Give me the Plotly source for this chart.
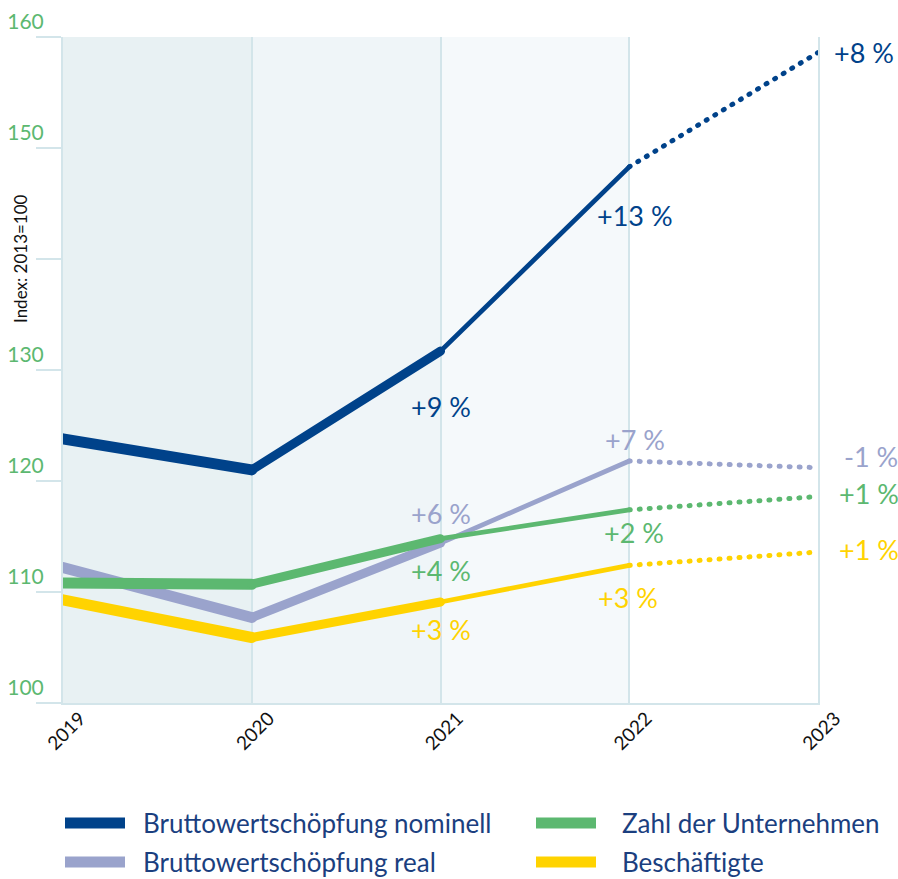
import plotly.graph_objects as go

years = [2019, 2020, 2021, 2022, 2023]
nominell = [123.8, 121.0, 131.7, 148.3, 158.6]
real = [112.2, 107.7, 114.4, 121.8, 121.2]
unternehmen = [110.8, 110.7, 114.8, 117.4, 118.6]
beschaeftigte = [109.3, 105.9, 109.1, 112.4, 113.6]

series_names = ["Bruttowertschöpfung nominell", "Bruttowertschöpfung real",
                "Zahl der Unternehmen", "Beschäftigte"]
series_values = [nominell, real, unternehmen, beschaeftigte]
series_colors = ["#00428a", "#9aa3cc", "#5cb870", "#ffd300"]

pct_labels = {
    "Bruttowertschöpfung nominell": ["+9 %", "+13 %", "+8 %"],
    "Bruttowertschöpfung real": ["+6 %", "+7 %", "-1 %"],
    "Zahl der Unternehmen": ["+4 %", "+2 %", "+1 %"],
    "Beschäftigte": ["+3 %", "+3 %", "+1 %"],
}
# pixel offsets (dx, dy-up) of labels relative to points 2021, 2022, 2023
pct_offsets = {
    "Bruttowertschöpfung nominell": [(0, -55), (6, -49), (14, 0)],
    "Bruttowertschöpfung real": [(0, 30), (6, 22), (24, 11)],
    "Zahl der Unternehmen": [(0, -32), (5, -23), (19, 3)],
    "Beschäftigte": [(0, -28), (-1, -32), (19, 3)],
}

y_ticks = [100, 110, 120, 130, 140, 150, 160]
y_ticktext = ["100", "110", "120", "130", "", "150", "160"]

FONT = "Lato"
L, R, T, B = 63, 818, 37, 703
W, H = 898, 879
GRID = "#d3e5ea"


def pxx(x):
    return (x - L) / (R - L)


def pyy(y):
    return (B - y) / (B - T)


fig = go.Figure()

widths = [11, 9, 4.8]
draw_order = [1, 2, 3, 0]
for i in draw_order:
    vals = series_values[i]
    col = series_colors[i]
    for s in range(3):
        fig.add_trace(go.Scatter(
            x=years[s:s + 2], y=vals[s:s + 2], mode="lines",
            line=dict(color=col, width=widths[s]),
            showlegend=False, hoverinfo="skip"))
    fig.add_trace(go.Scatter(
        x=years[3:5], y=vals[3:5], mode="lines",
        line=dict(color=col, width=5, dash="1px,9px"),
        showlegend=False, hoverinfo="skip"))

# background bands
band_colors = ["#e8f1f3", "#eff5f8", "#f5f9fb"]
shapes = []
for k, c in enumerate(band_colors):
    shapes.append(dict(type="rect", xref="x", yref="y", x0=years[k], x1=years[k + 1],
                       y0=100, y1=160, fillcolor=c, line=dict(width=0), layer="below"))

annotations = []
# percentage labels
for i, name in enumerate(series_names):
    vals = series_values[i]
    for j, (txt, (dx, dy)) in enumerate(zip(pct_labels[name], pct_offsets[name])):
        idx = j + 2
        last = idx == 4
        annotations.append(dict(
            x=years[idx], y=vals[idx], xref="x", yref="y", text=txt, showarrow=False,
            xanchor="left" if last else "center", yanchor="middle",
            xshift=dx, yshift=dy,
            font=dict(family=FONT, size=27, color=series_colors[i])))

# axis title
annotations.append(dict(x=pxx(20), y=140, xref="paper", yref="y", text="Index: 2013=100",
                        showarrow=False, textangle=-90, xanchor="center", yanchor="middle",
                        font=dict(family=FONT, size=17, color="#111111")))

# manual legend
legend_pos = [(65, 823), (65, 862), (536, 823), (536, 862)]
text_x = [141, 141, 620, 620]
for i, name in enumerate(series_names):
    x0, y0 = legend_pos[i]
    shapes.append(dict(type="line", xref="paper", yref="paper",
                       x0=pxx(x0), x1=pxx(x0 + 60), y0=pyy(y0), y1=pyy(y0),
                       line=dict(color=series_colors[i], width=11)))
    annotations.append(dict(x=pxx(text_x[i]), y=pyy(y0), xref="paper", yref="paper",
                            text=name, showarrow=False, xanchor="left", yanchor="middle",
                            font=dict(family=FONT, size=26, color="#1b3f7f")))

fig.update_layout(
    width=W, height=H,
    margin=dict(l=L, r=W - R, t=T, b=H - B),
    paper_bgcolor="white", plot_bgcolor="white",
    showlegend=False,
    shapes=shapes, annotations=annotations,
    xaxis=dict(range=[2019, 2023], tickvals=years, ticktext=[str(y) for y in years],
               showgrid=True, gridcolor=GRID, gridwidth=2,
               showline=True, linecolor=GRID, linewidth=2,
               tickangle=-45, ticks="", ticklabelshift=17, ticklabelstandoff=-5,
               tickfont=dict(family=FONT, size=19, color="#111111"), zeroline=False,
               automargin=False),
    yaxis=dict(range=[100, 160], tickvals=y_ticks, ticktext=y_ticktext,
               showgrid=False, zeroline=False,
               showline=True, linecolor=GRID, linewidth=2, mirror=True,
               ticks="outside", ticklen=25, tickcolor=GRID, tickwidth=2,
               ticklabelposition="outside top", ticklabelstandoff=13,
               tickfont=dict(family=FONT, size=21, color="#5cb870"),
               automargin=False),
)

post = """
document.body.style.margin = '0';
document.body.style.padding = '0';
var gd = document.getElementById('{plot_id}');
function fixCaps(){
  gd.querySelectorAll('.scatterlayer path.js-line').forEach(function(p){
    p.style.strokeLinecap = 'round';
    p.style.strokeLinejoin = 'round';
  });
}
fixCaps();
gd.on('plotly_afterplot', fixCaps);
"""

fig.write_html("out.html", post_script=post, config={"displayModeBar": False})
